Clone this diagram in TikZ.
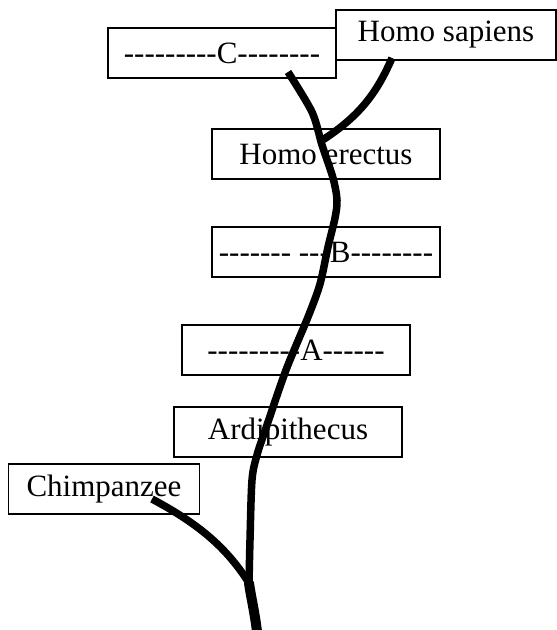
\documentclass[tikz,border=0pt]{standalone}
\usepackage{fontspec}
\setmainfont{Liberation Serif}[Ligatures=TeXOff]

\begin{document}
\begin{tikzpicture}[x=1pt,y=-1pt,
    taxon/.style={draw, line width=1.8pt, fill=white, inner sep=0pt,
      minimum width=228pt, minimum height=50pt,
      font=\fontsize{31}{36}\selectfont},
    branch/.style={line width=7.5pt, line join=round}]
  \useasboundingbox (0,0) rectangle (557,630);

  % Boxes
  \node[taxon] (c) at (222,53) {---------C--------};
  \node[taxon, minimum width=220pt] (sapiens) at (446,35) {Homo sapiens};
  \node[taxon] (erectus) at (326,154) {Homo erectus};
  \node[taxon] (b) at (326,252) {------- ---B--------};
  \node[taxon] (a) at (296,350) {---------A------};
  \node[taxon] (ardi) at (288,432) {Ardipithecus};
  \node[taxon, minimum width=191pt] (chimp) at (104,489) {Chimpanzee};

  % Branch points
  \coordinate (root) at (258,640);
  \coordinate (fork) at (249,583);
  \coordinate (ctip) at (288,72);
  \coordinate (join) at (321,141);
  \coordinate (stip) at (392,58);
  \coordinate (chtip) at (152,499);

  % Trunk
  \draw[branch, line width=10pt, line cap=round] (fork) .. controls (251,598) and (255,612) .. (root);
  \draw[branch] plot[smooth, tension=0.5] coordinates {(fork)
    (250,540) (252,480) (257,455) (266,428) (286,370) (308,317) (320,284)
    (328,247) (335,218) (337,200) (333,178) (322,145) (312,112) (ctip)};

  % Side branches
  \draw[branch] (join) .. controls (362,115) and (378,90) .. (stip);
  \draw[branch] (chtip) .. controls (195,522) and (225,545) .. (fork);
\end{tikzpicture}
\end{document}
